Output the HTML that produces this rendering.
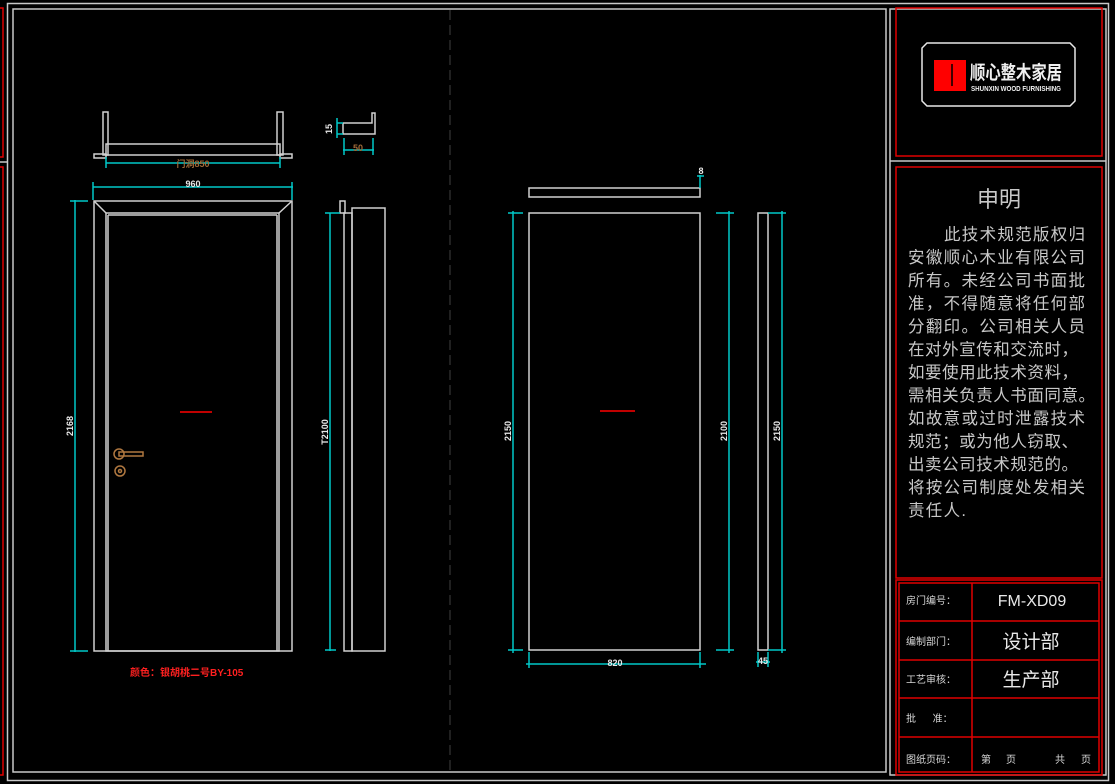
<!DOCTYPE html>
<html><head><meta charset="utf-8"><style>
html,body{margin:0;padding:0;background:#000;}
svg{display:block;}
text{font-family:"Liberation Sans","Noto Sans CJK SC",sans-serif;}
</style></head><body>
<svg width="1115" height="784" viewBox="0 0 1115 784" xmlns="http://www.w3.org/2000/svg">
<rect width="1115" height="784" fill="#000"/>
<g fill="none" stroke="#e00000" stroke-width="1.5">
<polyline points="0,8 3,8 3,157 0,157"/>
<polyline points="0,167 3,167 3,775 0,775"/>
</g>
<g fill="none" stroke="#c8c8c8" stroke-width="1.5">
<rect x="7.5" y="3.5" width="1101" height="777"/>
<rect x="13" y="9" width="873" height="763"/>
<line x1="0" y1="162" x2="7" y2="162"/>
<rect x="890" y="9" width="216" height="766"/>
<line x1="890" y1="161" x2="1106" y2="161"/>
</g>
<line x1="450" y1="10" x2="450" y2="772" stroke="#2a2a2a" stroke-width="1.5" stroke-dasharray="10,5"/>

<rect x="896" y="8" width="206" height="148" fill="none" stroke="#e00000" stroke-width="1.5"/>
<path d="M927,43 H1070 L1075,48 V101 L1070,106 H927 L922,101 V48 Z" fill="none" stroke="#e8e8e8" stroke-width="1.5"/>
<rect x="934" y="60" width="32" height="31" fill="#ff0000"/>
<line x1="952" y1="64" x2="952" y2="86" stroke="#000" stroke-width="1.5"/>
<text x="970" y="79" font-size="19" fill="#f0f0f0" font-weight="bold" textLength="92" lengthAdjust="spacingAndGlyphs">顺心整木家居</text>
<text x="971" y="91" font-size="7" fill="#f0f0f0" font-weight="bold" textLength="90" lengthAdjust="spacingAndGlyphs">SHUNXIN WOOD FURNISHING</text>

<rect x="896" y="167" width="206" height="411" fill="none" stroke="#e00000" stroke-width="1.5"/>
<text x="999" y="207" font-size="22" fill="#c8c8c8" text-anchor="middle">申明</text>
<g font-size="16.5" fill="#c8c8c8">
<text x="944" y="240" textLength="141" lengthAdjust="spacing">此技术规范版权归</text>
<text x="908" y="263" textLength="177" lengthAdjust="spacing">安徽顺心木业有限公司</text>
<text x="908" y="286" textLength="177" lengthAdjust="spacing">所有。未经公司书面批</text>
<text x="908" y="309" textLength="177" lengthAdjust="spacing">准，不得随意将任何部</text>
<text x="908" y="332" textLength="177" lengthAdjust="spacing">分翻印。公司相关人员</text>
<text x="908" y="355" textLength="170" lengthAdjust="spacing">在对外宣传和交流时，</text>
<text x="908" y="378" textLength="170" lengthAdjust="spacing">如要使用此技术资料，</text>
<text x="908" y="401" textLength="187" lengthAdjust="spacing">需相关负责人书面同意。</text>
<text x="908" y="424" textLength="177" lengthAdjust="spacing">如故意或过时泄露技术</text>
<text x="908" y="447" textLength="170" lengthAdjust="spacing">规范；或为他人窃取、</text>
<text x="908" y="470" textLength="170" lengthAdjust="spacing">出卖公司技术规范的。</text>
<text x="908" y="493" textLength="177" lengthAdjust="spacing">将按公司制度处发相关</text>
<text x="908" y="516" textLength="58" lengthAdjust="spacing">责任人.</text>
</g>

<g fill="none" stroke="#e00000" stroke-width="1.5">
<rect x="896" y="580" width="206" height="195"/>
<rect x="899" y="583" width="200" height="189"/>
<line x1="972" y1="583" x2="972" y2="772"/>
<line x1="899" y1="621" x2="1099" y2="621"/>
<line x1="899" y1="660" x2="1099" y2="660"/>
<line x1="899" y1="698" x2="1099" y2="698"/>
<line x1="899" y1="737" x2="1099" y2="737"/>
</g>
<g font-size="10" fill="#d8d8d8">
<text x="906" y="604">房门编号：</text>
<text x="906" y="645">编制部门：</text>
<text x="906" y="683">工艺审核：</text>
<text x="906" y="722">批&#160;&#160;&#160;&#160;&#160;&#160;准：</text>
<text x="906" y="763">图纸页码：</text>
<text x="981" y="763">第</text><text x="1006" y="763">页</text>
<text x="1055" y="763">共</text><text x="1081" y="763">页</text>
</g>
<text x="1032" y="606" font-size="16" fill="#e8e8e8" text-anchor="middle">FM-XD09</text>
<text x="1031" y="648" font-size="19" fill="#e8e8e8" text-anchor="middle">设计部</text>
<text x="1031" y="686" font-size="19" fill="#e8e8e8" text-anchor="middle">生产部</text>

<g fill="none" stroke="#d0d0d0" stroke-width="1.5">
<rect x="103" y="112" width="5" height="43"/>
<rect x="277" y="112" width="6" height="43"/>
<rect x="106" y="144" width="174" height="11"/>
<rect x="94" y="154" width="12" height="4"/>
<rect x="280" y="154" width="12" height="4"/>
<polyline points="343,123 372,123 372,113 375,113 375,134 343,134 343,123"/>
<rect x="94" y="201" width="198" height="450"/>
<rect x="106" y="213" width="173" height="438"/>
<line x1="94" y1="201" x2="106" y2="213"/>
<line x1="292" y1="201" x2="279" y2="213"/>
<line x1="108" y1="215" x2="108" y2="651"/>
<line x1="277" y1="215" x2="277" y2="651"/>
<line x1="108" y1="215" x2="277" y2="215"/>
<rect x="340" y="201" width="5" height="12"/>
<rect x="344" y="213" width="8" height="438"/>
<rect x="352" y="208" width="33" height="443"/>
</g>
<g fill="none" stroke="#b07840" stroke-width="1.5">
<circle cx="119" cy="454" r="5"/>
<rect x="119" y="452" width="24" height="4"/>
<circle cx="120" cy="471" r="5"/>
<circle cx="120" cy="471" r="1.5"/>
</g>
<line x1="180" y1="412" x2="212" y2="412" stroke="#ff0000" stroke-width="1.5"/>
<g stroke="#00c8c8" stroke-width="1.5" fill="none">
<line x1="106" y1="163" x2="280" y2="163"/>
<line x1="106" y1="157" x2="106" y2="168"/><line x1="280" y1="157" x2="280" y2="168"/>
<line x1="93" y1="187" x2="293" y2="187"/>
<line x1="93" y1="182" x2="93" y2="200"/><line x1="292" y1="182" x2="292" y2="200"/>
<line x1="75" y1="200" x2="75" y2="652"/>
<line x1="70" y1="201" x2="88" y2="201"/><line x1="70" y1="651" x2="88" y2="651"/>
<line x1="330" y1="213" x2="330" y2="651"/>
<line x1="325" y1="213" x2="340" y2="213"/><line x1="325" y1="650" x2="336" y2="650"/>
<line x1="343" y1="150" x2="374" y2="150"/>
<line x1="344" y1="138" x2="344" y2="155"/><line x1="373" y1="138" x2="373" y2="155"/>
<line x1="337" y1="123" x2="343" y2="123"/><line x1="337" y1="134" x2="343" y2="134"/>
<line x1="337" y1="118" x2="337" y2="138"/>
</g>
<g font-size="9" font-weight="bold">
<text x="193" y="167" fill="#a06a38" text-anchor="middle">门洞850</text>
<text x="193" y="187" fill="#e8e8e8" text-anchor="middle">960</text>
<text x="358" y="151" fill="#a06a38" text-anchor="middle">50</text>
<text transform="translate(332,129) rotate(-90)" fill="#e8e8e8" text-anchor="middle">15</text>
<text transform="translate(73,426) rotate(-90)" fill="#e8e8e8" text-anchor="middle">2168</text>
<text transform="translate(328,432) rotate(-90)" fill="#e8e8e8" text-anchor="middle">T2100</text>
</g>
<text x="130" y="676" font-size="10" font-weight="bold" fill="#ff2020">颜色：银胡桃二号BY-105</text>

<g fill="none" stroke="#d0d0d0" stroke-width="1.5">
<rect x="529" y="188" width="171" height="9"/>
<rect x="529" y="213" width="171" height="437"/>
<rect x="758" y="213" width="10" height="437"/>
</g>
<line x1="600" y1="411" x2="635" y2="411" stroke="#ff0000" stroke-width="1.5"/>
<g stroke="#00c8c8" stroke-width="1.5" fill="none">
<line x1="513" y1="211" x2="513" y2="653"/>
<line x1="508" y1="213" x2="523" y2="213"/><line x1="508" y1="650" x2="523" y2="650"/>
<line x1="729" y1="211" x2="729" y2="653"/>
<line x1="716" y1="213" x2="734" y2="213"/><line x1="716" y1="650" x2="734" y2="650"/>
<line x1="782" y1="211" x2="782" y2="653"/>
<line x1="768" y1="213" x2="786" y2="213"/><line x1="768" y1="650" x2="786" y2="650"/>
<line x1="526" y1="664" x2="706" y2="664"/>
<line x1="529" y1="652" x2="529" y2="668"/><line x1="700" y1="652" x2="700" y2="668"/>
<line x1="756" y1="662" x2="770" y2="662"/>
<line x1="758" y1="652" x2="758" y2="667"/><line x1="768" y1="652" x2="768" y2="667"/>
<line x1="700" y1="175" x2="700" y2="188"/><line x1="697" y1="176" x2="704" y2="176"/>
</g>
<g font-size="9" font-weight="bold" fill="#e8e8e8">
<text x="615" y="666" text-anchor="middle">820</text>
<text x="763" y="664" text-anchor="middle">45</text>
<text x="701" y="174" text-anchor="middle">8</text>
<text transform="translate(511,431) rotate(-90)" text-anchor="middle">2150</text>
<text transform="translate(727,431) rotate(-90)" text-anchor="middle">2100</text>
<text transform="translate(780,431) rotate(-90)" text-anchor="middle">2150</text>
</g>
</svg>
</body></html>
